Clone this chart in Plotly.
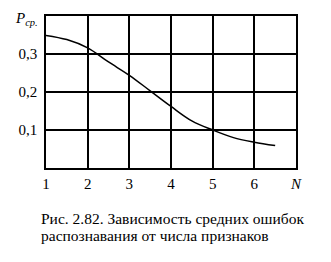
import plotly.graph_objects as go

N = [1, 1.5, 2, 2.5, 3, 3.5, 4, 4.5, 5, 5.5, 6, 6.5]
P = [0.349, 0.338, 0.316, 0.279, 0.244, 0.203, 0.162, 0.124, 0.100, 0.080, 0.068, 0.059]

x_ticks = [1, 2, 3, 4, 5, 6, 7]
x_labels = ["1", "2", "3", "4", "5", "6", "<i>N</i>"]
y_ticks = [0.1, 0.2, 0.3]
y_labels = ["0,1", "0,2", "0,3"]
y_title = "<i>P</i><sub><i>ср.</i></sub>"
caption_lines = ["Рис. 2.82. Зависимость средних ошибок", "распознавания от числа признаков"]

W, H = 331, 262
L, R, T, B = 46, 35, 16, 94
PW, PH = W - L - R, H - T - B

serif = "Liberation Serif, DejaVu Serif, serif"

fig = go.Figure()
fig.add_trace(go.Scatter(x=N, y=P, mode="lines", line=dict(color="black", width=1.5, shape="spline"),
                         hoverinfo="skip", showlegend=False))

fig.update_layout(
    width=W, height=H,
    margin=dict(l=L, r=R, t=T, b=B, pad=0),
    paper_bgcolor="white", plot_bgcolor="white",
    font=dict(family=serif, color="black", size=15),
)
fig.update_xaxes(range=[1, 7], tickmode="array", tickvals=x_ticks, ticktext=x_labels,
                 showgrid=True, gridcolor="black", gridwidth=1.5,
                 showline=True, linecolor="black", linewidth=1.5, mirror=True, zeroline=False,
                 ticks="outside", ticklen=1, tickcolor="rgba(0,0,0,0)",
                 tickfont=dict(family=serif, color="black", size=15), fixedrange=True)
fig.update_yaxes(range=[0, 0.4], tickmode="array", tickvals=y_ticks, ticktext=y_labels,
                 showgrid=True, gridcolor="black", gridwidth=1.5,
                 showline=True, linecolor="black", linewidth=1.5, mirror=True, zeroline=False,
                 ticks="outside", ticklen=4, tickcolor="rgba(0,0,0,0)",
                 tickfont=dict(family=serif, color="black", size=15), fixedrange=True)
fig.add_annotation(text=y_title, xref="paper", yref="paper", x=(26 - L) / PW, y=(H - B - 19) / PH,
                   xanchor="center", yanchor="middle", showarrow=False,
                   font=dict(family=serif, color="black", size=15))
for i, line in enumerate(caption_lines):
    yc = 218 + 17 * i
    fig.add_annotation(text=line, xref="paper", yref="paper", x=(39 - L) / PW, y=-(yc - (H - B)) / PH,
                       xanchor="left", yanchor="middle", align="left", showarrow=False,
                       font=dict(family=serif, color="black", size=15.5))

fig.write_html("out.html")
